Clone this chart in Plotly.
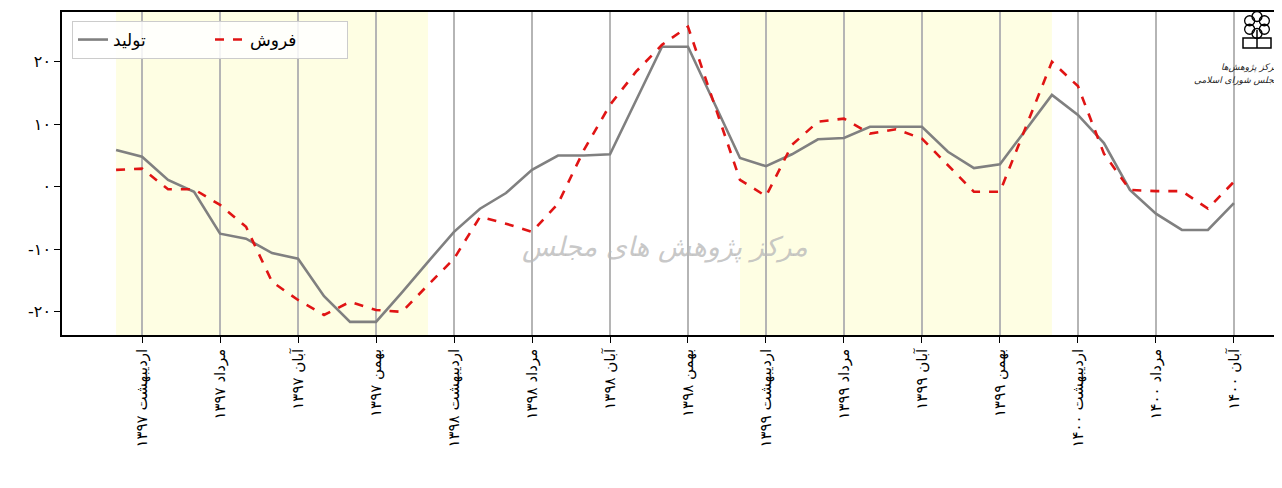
import math
import plotly.graph_objects as go

# month index 0 = Farvardin 1397 ... 43 = Aban 1400
production = [5.9, 4.8, 1.1, -0.8, -7.5, -8.3, -10.6, -11.5, -17.5, -21.6, -21.6, -16.9,
              -12.0, -7.2, -3.5, -1.0, 2.7, 5.0, 5.0, 5.2, 13.8, 22.4, 22.4, 13.5,
              4.6, 3.3, 5.2, 7.6, 7.8, 9.6, 9.6, 9.6, 5.6, 3.0, 3.6, 9.2,
              14.7, 11.5, 7.0, -0.5, -4.3, -6.9, -6.9, -2.6]
sales = [2.7, 2.9, -0.4, -0.4, -2.9, -6.4, -15.2, -18.1, -20.5, -18.4, -19.7, -20.0,
         -15.7, -11.5, -4.8, -5.9, -7.2, -2.7, 5.9, 13.1, 18.4, 22.7, 25.6, 13.3,
         1.1, -1.5, 6.7, 10.4, 10.9, 8.5, 9.2, 7.7, 3.5, -0.8, -0.8, 9.6,
         20.0, 16.1, 5.3, -0.5, -0.7, -0.7, -3.5, 0.8]
months = list(range(len(production)))

tick_positions = [1, 4, 7, 10, 13, 16, 19, 22, 25, 28, 31, 34, 37, 40, 43]
tick_labels = ["اردیبهشت ۱۳۹۷", "مرداد ۱۳۹۷", "آبان ۱۳۹۷", "بهمن ۱۳۹۷",
               "اردیبهشت ۱۳۹۸", "مرداد ۱۳۹۸", "آبان ۱۳۹۸", "بهمن ۱۳۹۸",
               "اردیبهشت ۱۳۹۹", "مرداد ۱۳۹۹", "آبان ۱۳۹۹", "بهمن ۱۳۹۹",
               "اردیبهشت ۱۴۰۰", "مرداد ۱۴۰۰", "آبان ۱۴۰۰"]
y_ticks = [-20, -10, 0, 10, 20]
y_tick_labels = ["-۲۰", "-۱۰", "۰", "۱۰", "۲۰"]
shaded_spans = [(0, 12), (24, 36)]

font_family = "DejaVu Sans"

# layout geometry (page has an 8px body margin)
W, H = 1274, 480
ML, MT, MB, MR = 54, 4, 153, 0
PW = W - ML - MR
PH = H - MT - MB


def px(x):  # page pixel -> paper x
    return (x - 8 - ML) / PW


def py(y):  # page pixel -> paper y
    return (H - MB + 8 - y) / PH


fig = go.Figure()
fig.add_trace(go.Scatter(x=months, y=production, mode="lines", name="تولید",
                         line=dict(color="#808080", width=2.6)))
fig.add_trace(go.Scatter(x=months, y=sales, mode="lines", name="فروش",
                         line=dict(color="#e01414", width=2.6, dash="dash")))

for a, b in shaded_spans:
    fig.add_vrect(x0=a, x1=b, fillcolor="#fefee3", opacity=1, line_width=0, layer="below")

# watermark
fig.add_annotation(x=px(665), y=py(265), xref="paper", yref="paper",
                   text="مرکز پژوهش های مجلس", showarrow=False,
                   font=dict(family=font_family, size=27, color="rgba(185,185,185,0.8)",
                             style="italic"))

# logo: emblem + text
cx, cy, rr, cr = 1257, 25, 8.5, 5.0
for k in range(6):
    ang = math.pi / 2 + k * math.pi / 3
    x0 = cx + rr * math.cos(ang)
    y0 = cy - rr * math.sin(ang)
    fig.add_shape(type="circle", xref="paper", yref="paper",
                  x0=px(x0 - cr), x1=px(x0 + cr), y0=py(y0 + cr), y1=py(y0 - cr),
                  line=dict(color="black", width=1.3))
fig.add_shape(type="rect", xref="paper", yref="paper",
              x0=px(1243), x1=px(1271), y0=py(48), y1=py(38),
              line=dict(color="black", width=1.5))
fig.add_shape(type="line", xref="paper", yref="paper",
              x0=px(1257), x1=px(1257), y0=py(48), y1=py(30),
              line=dict(color="black", width=1.5))
fig.add_annotation(x=px(1281), y=py(60), xref="paper", yref="paper", xanchor="right",
                   text="مرکز پژوهش‌ها", showarrow=False,
                   font=dict(family=font_family, size=9, color="#222222", style="italic"))
fig.add_annotation(x=px(1281), y=py(73), xref="paper", yref="paper", xanchor="right",
                   text="مجلس شورای اسلامی", showarrow=False,
                   font=dict(family=font_family, size=9, color="#222222", style="italic"))

fig.update_layout(
    width=W, height=H,
    margin=dict(l=ML, r=MR, t=MT, b=MB),
    plot_bgcolor="white", paper_bgcolor="white",
    font=dict(family=font_family, size=14, color="black"),
    showlegend=True,
    legend=dict(orientation="h", x=px(72), y=py(21), xanchor="left", yanchor="top",
                bgcolor="rgba(255,255,255,0.85)", bordercolor="#cccccc", borderwidth=1,
                font=dict(size=17), entrywidth=92, entrywidthmode="pixels"),
    xaxis=dict(range=[-2.08, 44.85], tickmode="array", tickvals=tick_positions,
               ticktext=tick_labels, tickangle=-90, ticks="outside", ticklen=6,
               tickcolor="black", showgrid=True, gridcolor="#b5b5b5", gridwidth=1.5,
               showline=True, linecolor="black", linewidth=1.5, mirror=True,
               zeroline=False, tickfont=dict(size=15), layer="below traces"),
    yaxis=dict(range=[-23.7, 27.95], tickmode="array", tickvals=y_ticks,
               ticktext=y_tick_labels, ticks="outside", ticklen=6, tickcolor="black",
               showgrid=False, showline=True, linecolor="black", linewidth=1.5,
               zeroline=False, tickfont=dict(size=16)),
)

fig.write_html("out.html")
